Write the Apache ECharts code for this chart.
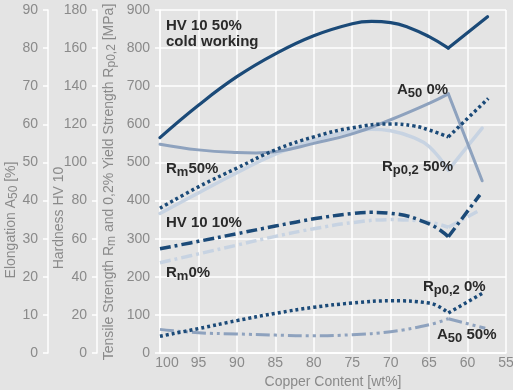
<!DOCTYPE html>
<html><head><meta charset="utf-8">
<script src="https://cdn.jsdelivr.net/npm/echarts@6/dist/echarts.min.js"></script>
<style>html,body{margin:0;padding:0;background:#e4e4e4}#c{width:513px;height:390px}</style>
</head><body><div id="c"></div>
<script>
// ---- data (copper content [wt%], value) ----
const xTicks = [100, 95, 90, 85, 80, 75, 70, 65, 60, 55];
const cornerCu = 62.5;
// Hardness HV 10 (HV)
const hv50 = [[100,113],[95,130],[90,145],[85,157],[80,166.5],[75,172.8],[72.5,174],[70,173.4],[67.5,170.6],[65,166],[62.5,160],[57.4,176.5]];
const hv10 = [[100,54.7],[95,58.6],[90,62.6],[85,66.6],[80,70.4],[75,73.2],[72.5,73.8],[70,73.3],[65,67.8],[62.5,61],[58.4,83]];
// Tensile strength Rm and yield strength Rp0,2 (MPa)
const rm50 = [[100,380],[95,436],[90,485],[85,533],[80,567],[75,591],[70,601],[67,596],[65,585],[62.5,567],[57.3,668]];
const rp50 = [[100,366],[95,420],[90,473],[85,522],[80,558],[75,582],[72.5,587],[70,583],[67,565],[65,542],[62.5,480],[58.1,590]];
const rm0  = [[100,237],[95,260],[90,283],[85,306],[80,326],[75,342],[70,350],[65,343],[62.5,330],[58.4,375]];
const rp0  = [[100,44],[95,64],[90,85],[85,104],[80,120],[75,131],[70,137],[65,131],[62.5,105],[57.8,160]];
// Elongation A50 (%)
const a50_0  = [[100,54.8],[95,53.3],[90,52.6],[87.5,52.5],[85,52.8],[80,55.0],[75,57.5],[70,61.2],[65,65.5],[62.5,68],[58.1,45.2]];
const a50_50 = [[100,6.2],[95,5.3],[90,5.0],[85,4.7],[80,4.5],[75,4.8],[70,5.6],[65,7.4],[62.5,9],[57.7,6.5]];

const FONT = '"Liberation Sans", Arial, sans-serif';
const DARK = '#1b4a78', MID = '#8ea2be', LIGHT = '#c7d3e2';
const GRAY = '#8a8a8a', INK = '#2a2a2a';

function build(name, pts, yIndex, color, width, dash, z) {
  const k = pts.findIndex(p => p[0] === cornerCu);
  const base = {type:'line', yAxisIndex:yIndex, symbol:'none', silent:true, animation:false, z:z,
    lineStyle:{color:color, width:width, type:dash, cap: dash === 'solid' ? 'round' : 'butt', join:'miter'}};
  return [
    Object.assign({}, base, {name:name, data:pts.slice(0, k + 1), smooth:0.45}),
    Object.assign({}, base, {name:name + ' ', data:pts.slice(k), smooth:false})
  ];
}

const dotted = [3, 3];
const dashDot = [11, 4, 3, 4];
const dashDot2 = [14, 4, 3, 4, 3, 4];

const series = [].concat(
  build('Rp0,2 50%', rp50, 0, LIGHT, 3.5, 'solid', 2),
  build('Rm 0%', rm0, 0, LIGHT, 3.5, dashDot, 2),
  build('A50 0%', a50_0, 2, MID, 3, 'solid', 3),
  build('A50 50%', a50_50, 2, MID, 3, dashDot2, 3),
  build('Rm 50%', rm50, 0, DARK, 3.5, dotted, 4),
  build('Rp0,2 0%', rp0, 0, DARK, 3.5, dotted, 4),
  build('HV 10 10%', hv10, 1, DARK, 3.5, dashDot, 4),
  build('HV 10 50% cold working', hv50, 1, DARK, 3.2, 'solid', 5)
);

const SUBRICH = (fill, size, weight) => ({ s: {fontSize:size, fontFamily:FONT, fontWeight:weight, fill:fill, padding:[6,0,0,0]} });

function lbl(x, y, text) {
  return {type:'text', x:x, y:y, silent:true, z:10,
    style:{text:text, fill:INK, fontSize:15, fontWeight:'bold', fontFamily:FONT, align:'left', verticalAlign:'middle', rich:SUBRICH(INK, 13, 'bold')}};
}
function axName(x, y, text) {
  return {type:'text', x:x, y:y, rotation:Math.PI/2, silent:true,
    style:{text:text, fill:GRAY, fontSize:14, fontFamily:FONT, align:'center', verticalAlign:'middle', rich:SUBRICH(GRAY, 12, 'normal')}};
}

function yAx(min, max, interval, offset, split) {
  return {type:'value', position:'left', min:min, max:max, interval:interval, offset:offset,
    axisLine:{show:true, onZero:false, lineStyle:{color:'#ffffff', width:1.5}},
    axisTick:{show:true, length:5, lineStyle:{color:'#ffffff', width:1.5}},
    axisLabel:{color:GRAY, fontSize:14, fontFamily:FONT, margin:10},
    splitLine:{show:split, lineStyle:{color:'#ffffff', width:1.5}}};
}

const chart = echarts.init(document.getElementById('c'), null, {renderer:'canvas'});
chart.setOption({
  backgroundColor:'#e4e4e4',
  animation:false,
  grid:{left:160, right:7, top:10, bottom:37, containLabel:false, outerBoundsMode:'none'},
  xAxis:{type:'value', min:55, max:100, interval:5, inverse:true,
    axisLine:{show:true, onZero:false, lineStyle:{color:'#ffffff', width:1.5}},
    axisTick:{show:false},
    axisLabel:{color:GRAY, fontSize:14, fontFamily:FONT, margin:3,
      formatter: v => v === xTicks[0] ? '{f|' + v + '}' : String(v),
      rich:{f:{fontSize:14, fontFamily:FONT, color:GRAY, padding:[0,0,0,14]}}},
    splitLine:{show:true, lineStyle:{color:'#ffffff', width:1.5}},
    name:'Copper Content [wt%]', nameLocation:'middle', nameGap:21,
    nameTextStyle:{color:GRAY, fontSize:14, fontFamily:FONT}},
  yAxis:[ yAx(0, 900, 100, 0, true), yAx(0, 180, 20, 63, false), yAx(0, 90, 10, 112, false) ],
  series: series,
  graphic:[
    axName(11, 220, 'Elongation A{s|50} [%]'),
    axName(59, 218, 'Hardness HV 10'),
    axName(109, 182, 'Tensile Strength R{s|m} and 0,2% Yield Strength R{s|p0,2} [MPa]'),
    lbl(166, 26, 'HV 10 50%'),
    lbl(166, 42, 'cold working'),
    lbl(397, 90, 'A{s|50} 0%'),
    lbl(166, 169, 'R{s|m}50%'),
    lbl(382, 167, 'R{s|p0,2} 50%'),
    lbl(166, 223, 'HV 10 10%'),
    lbl(166, 273, 'R{s|m}0%'),
    lbl(423, 287, 'R{s|p0,2} 0%'),
    lbl(437, 335, 'A{s|50} 50%')
  ]
});
</script></body></html>
